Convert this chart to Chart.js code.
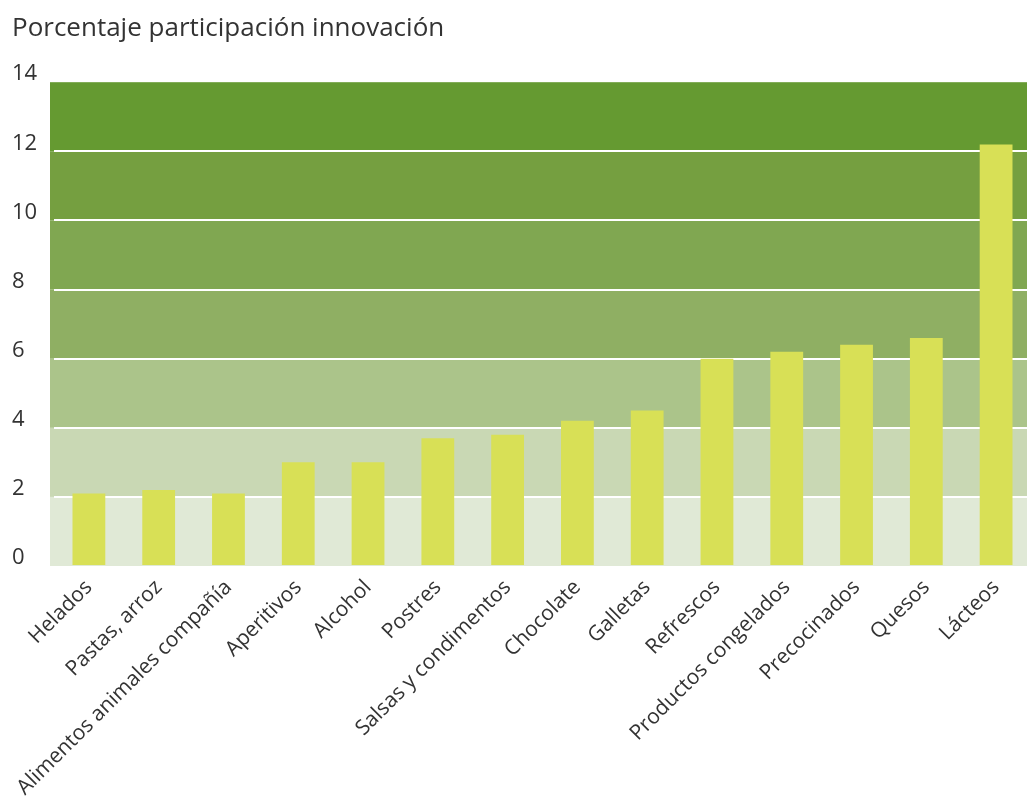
<!DOCTYPE html>
<html>
<head>
<meta charset="utf-8">
<script src="https://cdn.jsdelivr.net/npm/chart.js@4/dist/chart.umd.min.js"></script>
<style>
  html, body { margin: 0; padding: 0; background: #fff; overflow: hidden; }
  #wrap { width: 1031px; height: 799px; position: relative; }
</style>
</head>
<body>
<div id="wrap"><canvas id="innovChart"></canvas></div>
<script>
const categories = [
  "Helados", "Pastas, arroz", "Alimentos animales compañía", "Aperitivos",
  "Alcohol", "Postres", "Salsas y condimentos", "Chocolate", "Galletas",
  "Refrescos", "Productos congelados", "Precocinados", "Quesos", "Lácteos"
];
const participation = [2.1, 2.2, 2.1, 3.0, 3.0, 3.7, 3.8, 4.2, 4.5, 6.0, 6.2, 6.4, 6.6, 12.2];
const yTicks = [0, 2, 4, 6, 8, 10, 12, 14];
// one shade per 2-point band, bottom to top
const bandColors = ["#e0e9d6", "#c9d8b4", "#abc48a", "#8faf63", "#80a751", "#759f40", "#659a31"];

// paint the green bands behind everything, using the y scale
const bandPlugin = {
  id: "bands",
  beforeDraw(chart) {
    const { ctx, chartArea, scales } = chart;
    const y = scales.y;
    const left = chartArea.left - 4; // background starts a touch left of the first category
    ctx.save();
    for (let i = 0; i < yTicks.length - 1; i++) {
      const top = y.getPixelForValue(yTicks[i + 1]);
      const bottom = y.getPixelForValue(yTicks[i]);
      ctx.fillStyle = bandColors[i];
      ctx.fillRect(left, top, chartArea.right - left, bottom - top);
    }
    ctx.restore();
  }
};

const ctx = document.getElementById("innovChart");

new Chart(ctx, {
  type: "bar",
  data: {
    labels: categories,
    datasets: [
      {
        data: participation,
        backgroundColor: "#d8e056",
        borderWidth: 0,
        categoryPercentage: 1,
        barPercentage: 0.47,
      },
    ],
  },
  options: {
    responsive: true,
    maintainAspectRatio: false,
    animation: false,
    layout: { padding: { left: 12, right: 0, top: 0, bottom: 0 } },
    plugins: {
      legend: { display: false },
      tooltip: { enabled: false },
      title: {
        display: true,
        text: "Porcentaje participación innovación",
        align: "start",
        color: "#333333",
        font: { family: "'Open Sans', sans-serif", size: 26, weight: "normal" },
        padding: { top: 13, bottom: 38 },
      },
    },
    scales: {
      x: {
        grid: { display: false },
        border: { display: false },
        ticks: {
          color: "#333333",
          font: { family: "'Open Sans', sans-serif", size: 21 },
          minRotation: 45,
          maxRotation: 45,
          autoSkip: false,
          padding: 1,
        },
        afterFit(scale) {
          scale.height = 233; // room for the slanted labels
        },
      },
      y: {
        min: 0,
        max: 14,
        afterBuildTicks(scale) {
          scale.ticks = yTicks.map((v) => ({ value: v }));
        },
        grid: {
          color: (c) => (c.tick.value === 0 || c.tick.value === 14 ? "rgba(0,0,0,0)" : "#ffffff"),
          lineWidth: 2,
          drawTicks: false,
        },
        border: { display: false },
        ticks: {
          color: "#333333",
          font: { family: "'Open Sans', sans-serif", size: 22 },
          crossAlign: "far",
          padding: 4,
          labelOffset: -8,
        },
        afterFit(scale) {
          scale.width = 42;
        },
      },
    },
  },
  plugins: [bandPlugin],
});
</script>
</body>
</html>
